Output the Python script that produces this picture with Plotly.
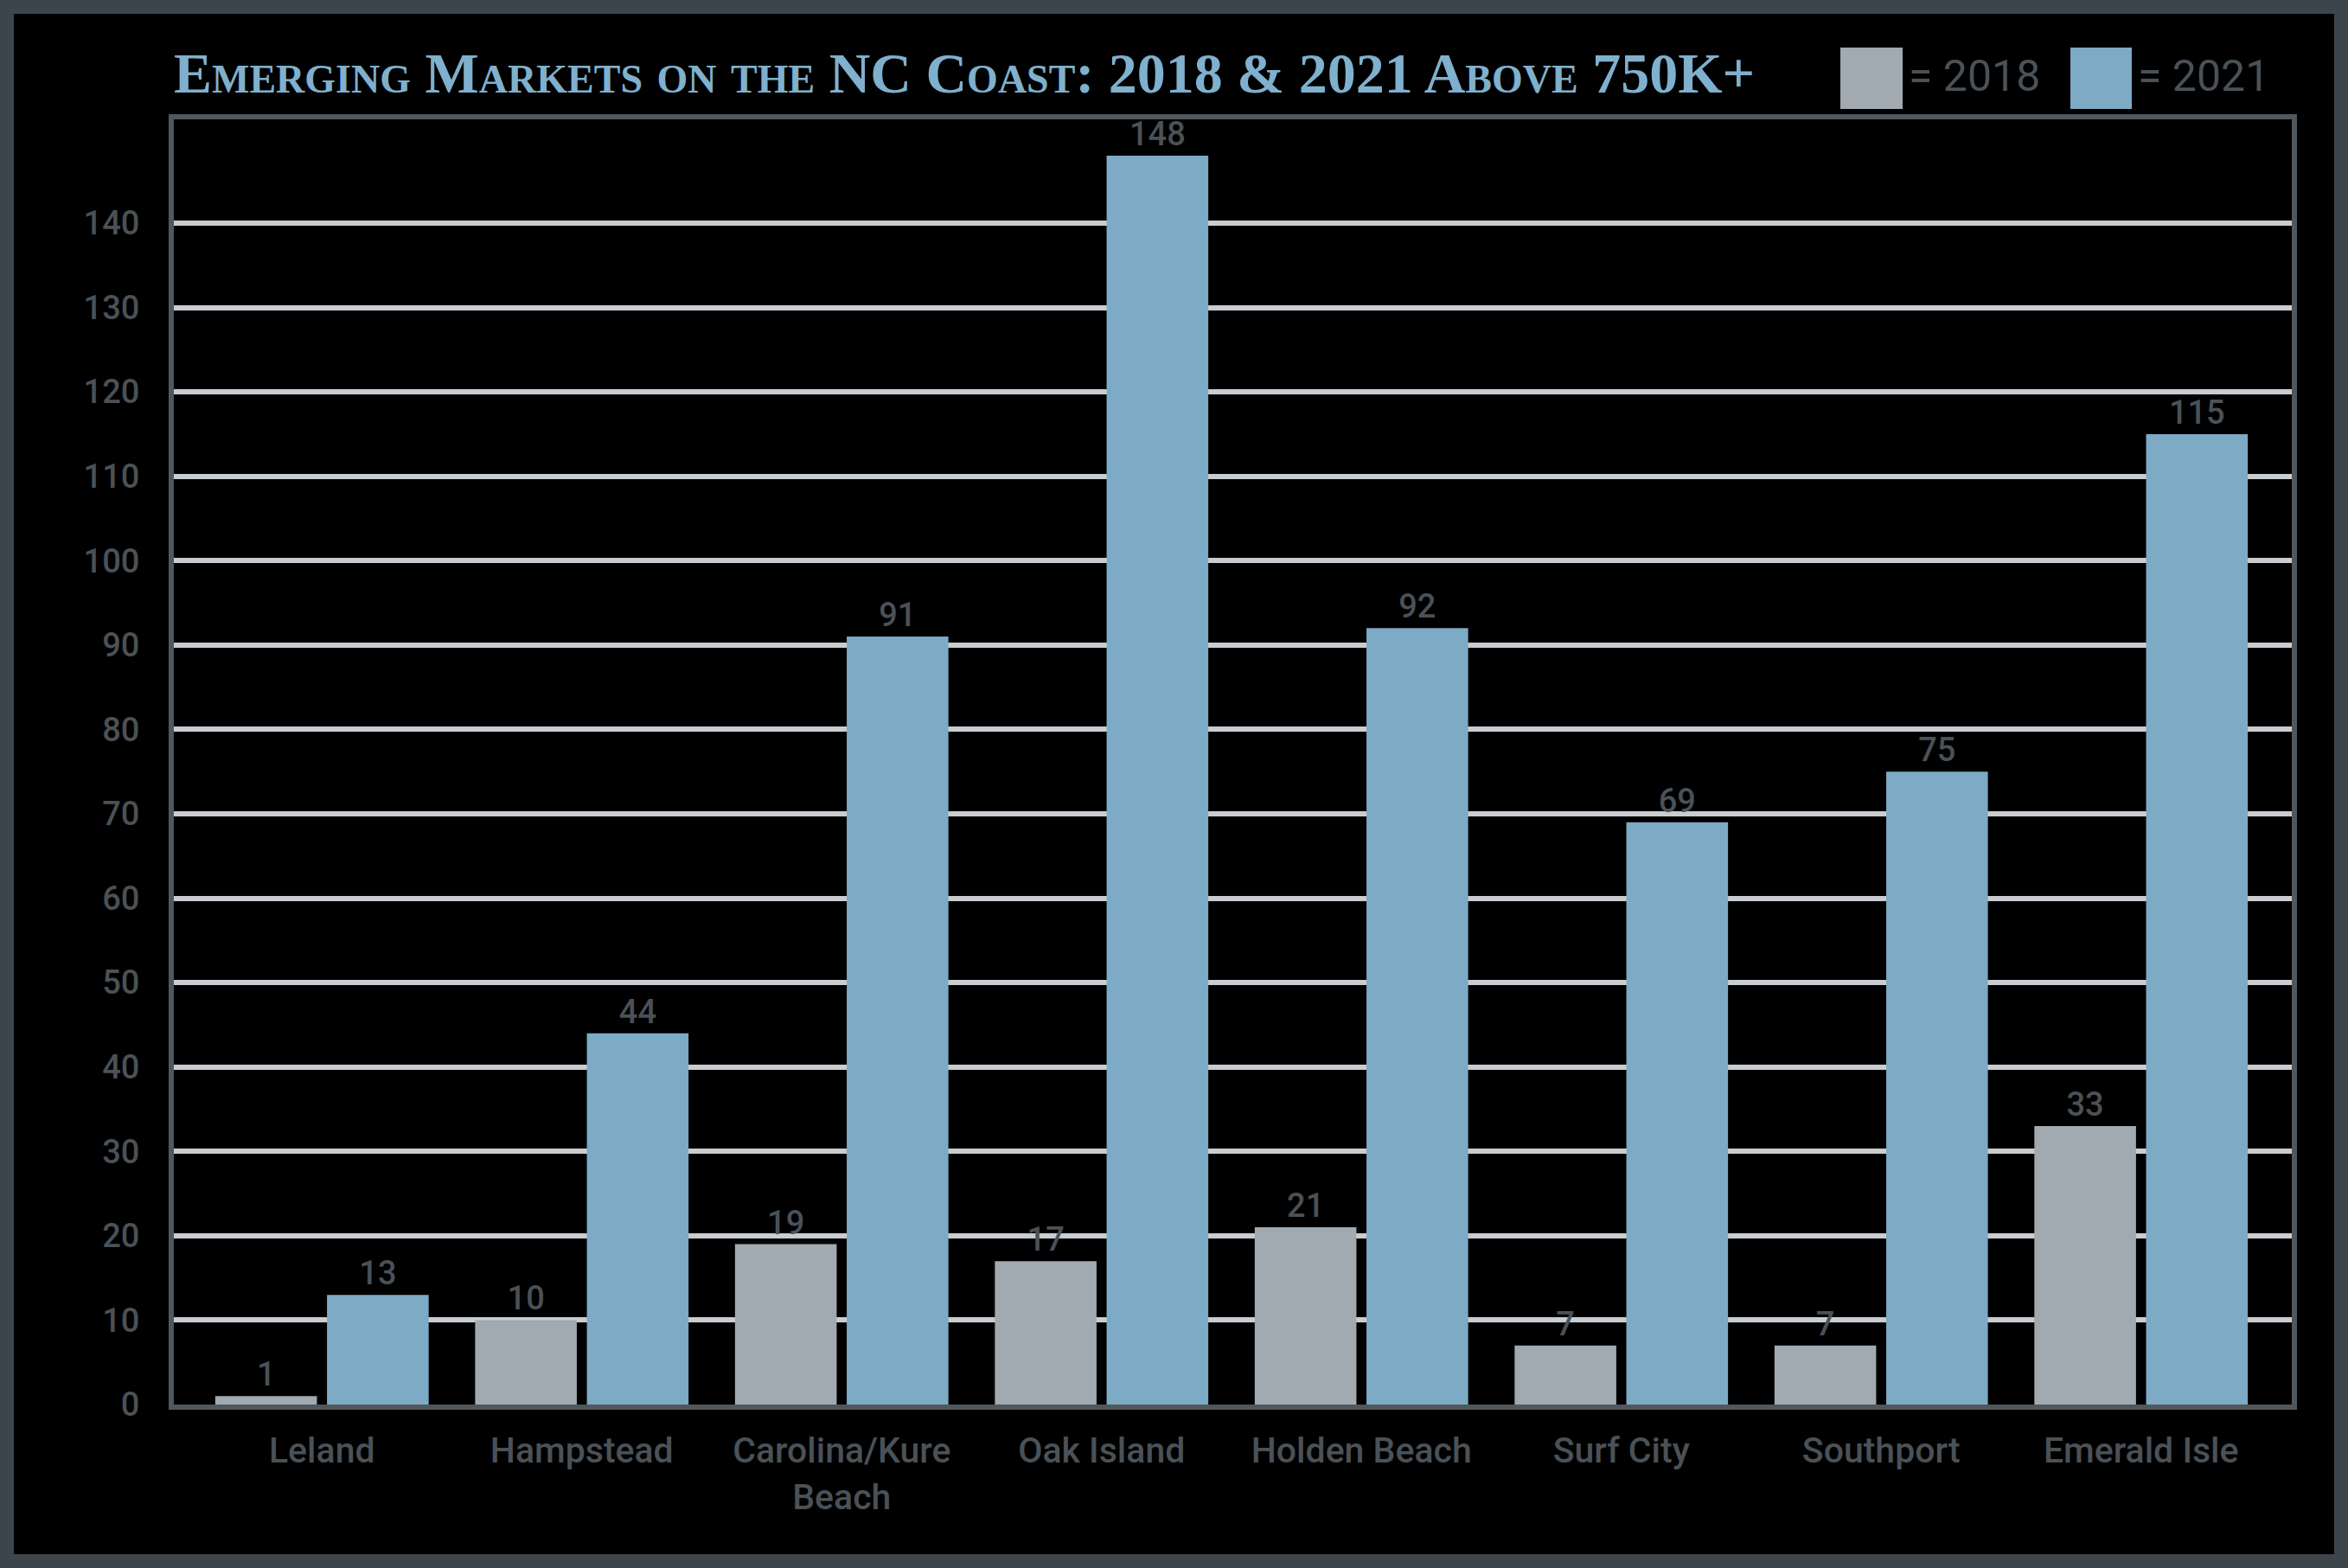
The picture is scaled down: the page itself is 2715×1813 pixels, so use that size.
#!/usr/bin/python3
#
# Emerging markets on the NC coast: homes sold above 750K, 2018 vs 2021.
#

import plotly.graph_objects as go

W = 2715
H = 1813

markets = ['Leland', 'Hampstead', 'Carolina/Kure<br>Beach', 'Oak Island',
           'Holden Beach', 'Surf City', 'Southport', 'Emerald Isle']
sales_2018 = [1, 10, 19, 17, 21, 7, 7, 33]
sales_2021 = [13, 44, 91, 148, 92, 69, 75, 115]
y_ticks = [0, 10, 20, 30, 40, 50, 60, 70, 80, 90, 100, 110, 120, 130, 140]
series_names = ['2018', '2021']
series_colors = ['#a1a9b1', '#7daac4']

text_color = '#4a5157'
frame_color = '#3d454c'

# plot area in pixels, used to place the frame and the legend keys
left, right, top, bottom = 201, 2650, 138, 1624


def px_x(p):
    return (p - left) / (right - left)


def px_y(p):
    return (bottom - p) / (bottom - top)


fig = go.Figure()

for name, vals, col in zip(series_names, [sales_2018, sales_2021], series_colors):
    fig.add_trace(go.Bar(x=markets, y=vals, name=name, marker_color=col,
                         marker_line_width=0, text=vals,
                         textposition='outside', cliponaxis=False,
                         textfont=dict(family='Roboto', size=38, color=text_color,
                                       weight=500)))

fig.update_layout(
    width=W, height=H,
    margin=dict(l=left, r=W - right, t=top, b=H - bottom),
    paper_bgcolor='black',
    plot_bgcolor='black',
    barmode='group',
    bargap=0.14,
    bargroupgap=0.09,
    showlegend=False,
    font=dict(family='Roboto', color=text_color),
    title=dict(text='Emerging Markets on the NC Coast: 2018 &amp; 2021 Above 750K+',
               x=0, xref='paper', xanchor='left',
               y=1 - 84 / H, yref='container', yanchor='middle',
               font=dict(family='Liberation Serif', size=66, color='#7fb0cd',
                         weight='bold', variant='small-caps')),
    xaxis=dict(range=[-0.57, 7.58], showgrid=False, zeroline=False,
               showline=True, linecolor='#50575d', linewidth=6, mirror=True,
               ticks='', tickfont=dict(size=41, color=text_color, weight=500),
               ticklabelstandoff=12),
    yaxis=dict(range=[0, 152.3], tickvals=y_ticks, showgrid=True,
               gridcolor='#c9cdd1', gridwidth=6, zeroline=False,
               showline=True, linecolor='#50575d', linewidth=6, mirror=True,
               ticks='', tickfont=dict(size=38, color=text_color, weight=500),
               ticklabelstandoff=26),
)

# legend keys drawn by hand so they can be as big as in the original
key_x = [(2128, 2200), (2394, 2465)]
for (x0, x1), name, col in zip(key_x, series_names, series_colors):
    fig.add_shape(type='rect', xref='paper', yref='paper',
                  x0=px_x(x0), x1=px_x(x1), y0=px_y(126), y1=px_y(55),
                  fillcolor=col, line_width=0)
    fig.add_annotation(text='= ' + name, xref='paper', yref='paper',
                       x=px_x(x1 + 5), y=px_y(88), xanchor='left', yanchor='middle',
                       showarrow=False,
                       font=dict(family='Roboto', size=50, color=text_color))

# dark outer frame
fig.add_shape(type='rect', xref='paper', yref='paper', layer='above',
              x0=px_x(8), x1=px_x(W - 8), y0=px_y(H - 8), y1=px_y(8),
              line=dict(color=frame_color, width=16), fillcolor='rgba(0,0,0,0)')

# page has a default body margin, drop it so the figure fills the window
fig.write_html('out.html', config={'displayModeBar': False},
               post_script="document.body.style.margin='0px';")
